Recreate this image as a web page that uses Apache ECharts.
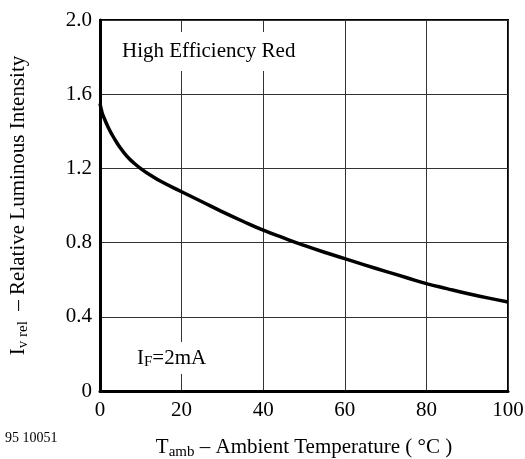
<!DOCTYPE html>
<html>
<head>
<meta charset="utf-8">
<script src="https://cdn.jsdelivr.net/npm/echarts@6/dist/echarts.min.js"></script>
<style>html,body{margin:0;padding:0;background:#fff}#c{width:525px;height:459px}</style>
</head>
<body>
<div id="c"></div>
<script>
const temperatures = [0, 0.5, 1, 2, 3, 4, 5, 6, 7, 8, 10, 12, 15, 20, 25, 30, 35, 40, 45, 50, 55, 60, 65, 70, 75, 80, 85, 90, 95, 100];
const intensity = [1.55, 1.502, 1.472, 1.422, 1.38, 1.343, 1.31, 1.281, 1.256, 1.235, 1.199, 1.169, 1.129, 1.074, 1.02, 0.966, 0.915, 0.867, 0.825, 0.785, 0.748, 0.714, 0.679, 0.645, 0.612, 0.579, 0.552, 0.526, 0.502, 0.48];
const xTicks = [0, 20, 40, 60, 80, 100];
const yTicks = [0, 0.4, 0.8, 1.2, 1.6, 2.0];
const seriesLabel = 'High Efficiency Red';
const conditionLabel = '{m|I}{s|F}{m|=2mA}';
const figureId = '95 10051';

const font = 'Liberation Serif';
const chart = echarts.init(document.getElementById('c'), null, {renderer: 'canvas'});
chart.setOption({
  animation: false,
  backgroundColor: '#fff',
  grid: {left: 100, right: 17, top: 20, bottom: 68, show: true, borderColor: '#000', borderWidth: 2,
    backgroundColor: 'transparent', containLabel: false, outerBoundsMode: 'none'},
  xAxis: {
    type: 'value', min: 0, max: 100, interval: 20,
    name: '{m|T}{s|amb}{m| – Ambient Temperature ( °C )}',
    nameLocation: 'middle', nameGap: 43,
    nameTextStyle: {rich: {
      m: {fontFamily: font, fontSize: 21, color: '#000', lineHeight: 26, verticalAlign: 'middle'},
      s: {fontFamily: font, fontSize: 15, color: '#000', lineHeight: 26, verticalAlign: 'bottom'}
    }},
    axisLine: {show: true, lineStyle: {color: '#000', width: 3}},
    axisTick: {show: false},
    axisLabel: {fontFamily: font, fontSize: 21, color: '#000', margin: 9,
      formatter: v => xTicks.includes(v) ? String(v) : ''},
    splitLine: {show: true, lineStyle: {color: '#333', width: 1}}
  },
  yAxis: {
    type: 'value', min: 0, max: 2.0, interval: 0.4,
    name: '{m|I}{s|v rel}{m|  – Relative Luminous Intensity}',
    nameLocation: 'middle', nameGap: 69, nameRotate: 90,
    nameTextStyle: {rich: {
      m: {fontFamily: font, fontSize: 21, color: '#000', lineHeight: 26, verticalAlign: 'middle'},
      s: {fontFamily: font, fontSize: 15, color: '#000', lineHeight: 26, verticalAlign: 'bottom'}
    }},
    axisLine: {show: true, lineStyle: {color: '#000', width: 3}},
    axisTick: {show: false},
    axisLabel: {fontFamily: font, fontSize: 21, color: '#000', margin: 8,
      formatter: v => {
        const t = yTicks.find(y => Math.abs(y - v) < 1e-9);
        if (t === undefined) return '';
        return t === 0 ? '0' : t.toFixed(1);
      }},
    splitLine: {show: true, lineStyle: {color: '#333', width: 1}}
  },
  series: [{
    type: 'line', data: temperatures.map((t, i) => [t, intensity[i]]),
    smooth: 0.5, showSymbol: false, clip: false,
    lineStyle: {color: '#000', width: 3.5, cap: 'butt', join: 'round'}
  }],
  graphic: [
    {type: 'text', left: 116, top: 32, z: 100,
      style: {text: seriesLabel, fontFamily: font, fontSize: 21, fill: '#000',
        backgroundColor: '#fff', padding: [9, 6, 9, 6]}},
    {type: 'text', left: 131, top: 342, z: 100,
      style: {text: conditionLabel, backgroundColor: '#fff', padding: [4, 6, 4, 6],
        rich: {
          m: {fontFamily: font, fontSize: 21, fill: '#000', lineHeight: 24, verticalAlign: 'middle'},
          s: {fontFamily: font, fontSize: 15, fill: '#000', lineHeight: 24, verticalAlign: 'bottom'}
        }}},
    {type: 'text', left: 5, top: 431,
      style: {text: figureId, fontFamily: font, fontSize: 14, fill: '#000'}}
  ]
});
</script>
</body>
</html>
